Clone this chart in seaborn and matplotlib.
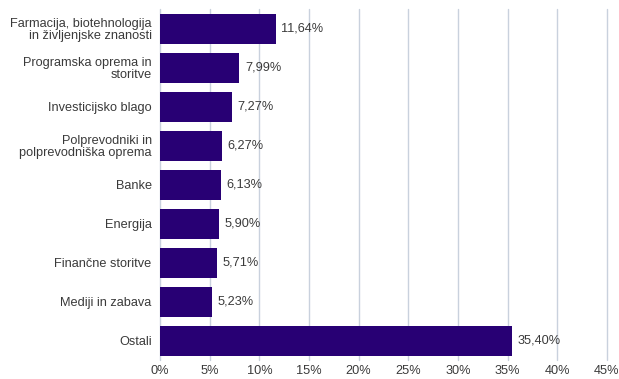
import matplotlib
matplotlib.use("Agg")
import matplotlib.pyplot as plt
import seaborn as sns
import pandas as pd

categories = [
    "Farmacija, biotehnologija\nin življenjske znanosti",
    "Programska oprema in\nstoritve",
    "Investicijsko blago",
    "Polprevodniki in\npolprevodniška oprema",
    "Banke",
    "Energija",
    "Finančne storitve",
    "Mediji in zabava",
    "Ostali",
]
values = [11.64, 7.99, 7.27, 6.27, 6.13, 5.90, 5.71, 5.23, 35.40]
xticks = [0, 5, 10, 15, 20, 25, 30, 35, 40, 45]

df = pd.DataFrame({"sektor": categories, "delez": values})

sns.set_style("white")
plt.rcParams["font.family"] = ["Liberation Sans", "DejaVu Sans"]

fig = plt.figure(figsize=(6.19, 3.79), dpi=100)
ax = fig.add_axes([0.2585, 0.049, 0.7220, 0.926])

sns.barplot(data=df, x="delez", y="sektor", color="#280074", saturation=1,
            width=0.76, linewidth=0, ax=ax, zorder=3)

txt_color = "#3a3a3a"
fs = 9.2
ax.set_xlim(0, 45)
ax.set_ylim(8.5, -0.5)
ax.set_xticks(xticks)
ax.set_xticklabels([f"{t}%" for t in xticks], fontsize=fs, color=txt_color)
ax.tick_params(axis="y", labelsize=fs, labelcolor=txt_color, length=0, pad=6)
ax.tick_params(axis="x", length=0, pad=3)
for lbl in ax.get_yticklabels():
    lbl.set_linespacing(0.95)
ax.set_xlabel("")
ax.set_ylabel("")
ax.grid(axis="x", color="#c9d1dd", linewidth=1, zorder=0)
for gl in ax.get_xgridlines():
    gl.set_clip_on(False)
for s in ax.spines.values():
    s.set_visible(False)

for i, v in enumerate(values):
    ax.annotate(f"{v:.2f}%".replace(".", ","), xy=(v, i), xytext=(4, 0),
                textcoords="offset points", va="center", ha="left",
                fontsize=fs, color=txt_color)

fig.savefig("out.png", dpi=100)
